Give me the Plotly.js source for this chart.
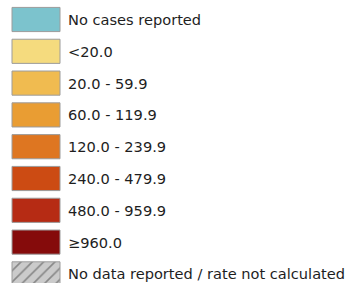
<!DOCTYPE html>
<html>
<head>
<meta charset="utf-8">
<script src="https://cdn.plot.ly/plotly-3.0.1.min.js"></script>
<style>html,body{margin:0;padding:0;background:#fff;}#chart{width:348px;height:283px;}</style>
</head>
<body>
<div id="chart"></div>
<script>
const categories = [
  "No cases reported",
  "<20.0",
  "20.0 - 59.9",
  "60.0 - 119.9",
  "120.0 - 239.9",
  "240.0 - 479.9",
  "480.0 - 959.9",
  "\u2265960.0",
  "No data reported / rate not calculated"
];
const swatchColors = [
  "#7cc3cd", "#f5db7e", "#f0bb50", "#e99d33", "#de7621",
  "#cc4b13", "#b62b14", "#850b0b", "#cbcbcb"
];
const hatchShapes = ["", "", "", "", "", "", "", "", "/"];

const idx = categories.map((_, i) => i);
const trace = {
  type: "bar",
  orientation: "h",
  y: idx,
  x: categories.map(() => 48),
  base: categories.map(() => 12),
  width: 0.76,
  marker: {
    color: swatchColors,
    line: {color: "#9c9c9c", width: 1},
    pattern: {
      shape: hatchShapes,
      fgcolor: "#4a4a4a",
      size: 8,
      solidity: 0.2,
      fillmode: "overlay"
    }
  },
  hoverinfo: "skip",
  showlegend: false
};

const annotations = categories.map((c, i) => ({
  x: 66, y: i, xref: "x", yref: "y",
  text: c.replace("<", "&lt;"),
  showarrow: false, xanchor: "left", yanchor: "middle",
  font: {family: "DejaVu Sans", size: 14.6, color: "#1e1e1e"}
}));

const pxPerRow = 31.8, firstCenter = 19.5, H = 283;
const layout = {
  width: 348, height: 283,
  margin: {l: 0, r: 0, t: 0, b: 0},
  paper_bgcolor: "#fff", plot_bgcolor: "#fff",
  xaxis: {range: [0, 348], visible: false, fixedrange: true},
  yaxis: {range: [(H - firstCenter) / pxPerRow, -firstCenter / pxPerRow], visible: false, fixedrange: true},
  annotations: annotations,
  bargap: 0
};
Plotly.newPlot("chart", [trace], layout, {displayModeBar: false, staticPlot: true});
</script>
</body>
</html>
